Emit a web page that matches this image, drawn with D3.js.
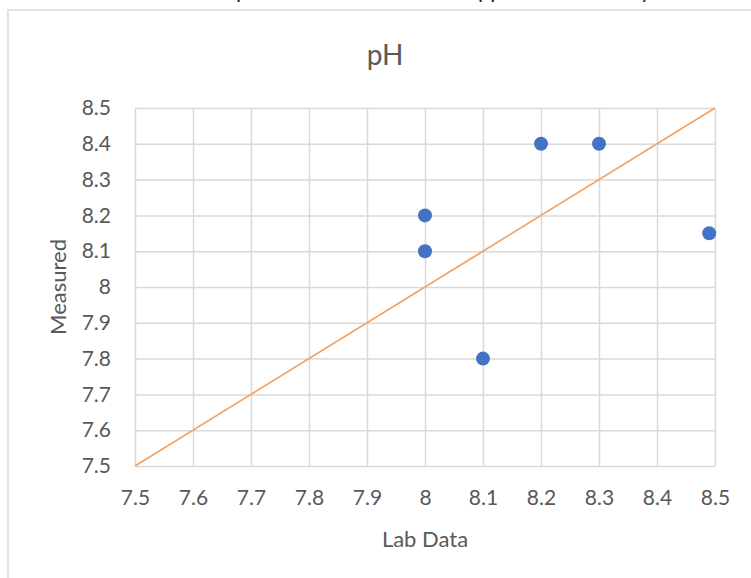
<!DOCTYPE html>
<html>
<head>
<meta charset="utf-8">
<script src="https://cdn.jsdelivr.net/npm/d3@7"></script>
<style>
  body { margin: 0; background: #fff; }
  svg { display: block; font-family: Lato, "Open Sans", sans-serif; }
</style>
</head>
<body>
<svg id="chart" width="751" height="578"></svg>
<script>
// lab value vs field measurement
const labData = [8.0, 8.0, 8.1, 8.2, 8.3, 8.49]
const measured = [8.2, 8.1, 7.8, 8.4, 8.4, 8.15]
// 1:1 reference line
const refLine = [7.5, 8.5]
const ticks = [7.5, 7.6, 7.7, 7.8, 7.9, 8, 8.1, 8.2, 8.3, 8.4, 8.5]

const svg = d3.select('#chart')
const grey = '#595959'

const plot = { left: 135, right: 715, top: 108, bottom: 466 }

const x = d3.scaleLinear().domain([7.5, 8.5]).range([plot.left, plot.right])
const y = d3.scaleLinear().domain([7.5, 8.5]).range([plot.bottom, plot.top])

// chart frame, runs off the right and bottom of the shot
svg.append('rect')
	.attr('x', 8).attr('y', 10)
	.attr('width', 800).attr('height', 600)
	.attr('fill', '#fff')
	.attr('stroke', '#d9d9d9')
	.attr('stroke-width', 1.5)

// tail ends of the document text above the chart (cut off in the shot too)
svg.selectAll('.cut')
	.data([{ t: 'p', x: 236 }, { t: 'pp', x: 478 }, { t: 'y', x: 640 }])
	.join('text')
		.attr('class', 'cut')
		.attr('x', (d) => d.x)
		.attr('y', -2)
		.attr('font-size', 22)
		.attr('fill', '#222')
		.text((d) => d.t)

// gridlines
svg.append('g')
	.attr('transform', `translate(0,${plot.bottom})`)
	.call(d3.axisBottom(x).tickValues(ticks).tickSize(-(plot.bottom - plot.top)).tickFormat(''))
	.call((g) => g.select('.domain').remove())
	.selectAll('line').attr('stroke', '#d9d9d9').attr('stroke-width', 1.5)

svg.append('g')
	.attr('transform', `translate(${plot.left},0)`)
	.call(d3.axisLeft(y).tickValues(ticks).tickSize(-(plot.right - plot.left)).tickFormat(''))
	.call((g) => g.select('.domain').remove())
	.selectAll('line').attr('stroke', '#d9d9d9').attr('stroke-width', 1.5)

// tick labels
const fmt = (d) => d3.format('.1f')(d).replace(/\.0$/, '')

const xAxis = svg.append('g')
	.attr('transform', `translate(0,${plot.bottom})`)
	.call(d3.axisBottom(x).tickValues(ticks).tickSize(0).tickPadding(24).tickFormat(fmt))
xAxis.select('.domain').remove()
xAxis.selectAll('text').attr('font-size', 21).attr('font-family', 'Lato').attr('fill', grey)

const yAxis = svg.append('g')
	.attr('transform', `translate(${plot.left},0)`)
	.call(d3.axisLeft(y).tickValues(ticks).tickSize(0).tickPadding(24).tickFormat(fmt))
yAxis.select('.domain').remove()
yAxis.selectAll('text').attr('font-size', 21).attr('font-family', 'Lato').attr('fill', grey)

// 1:1 line
svg.append('line')
	.attr('x1', x(refLine[0])).attr('y1', y(refLine[0]))
	.attr('x2', x(refLine[1])).attr('y2', y(refLine[1]))
	.attr('stroke', '#f4a465')
	.attr('stroke-width', 1.8)

// points
svg.selectAll('.pt')
	.data(labData.map((v, i) => ({ x: v, y: measured[i] })))
	.join('circle')
		.attr('class', 'pt')
		.attr('cx', (d) => x(d.x))
		.attr('cy', (d) => y(d.y))
		.attr('r', 7)
		.attr('fill', '#4472c4')

// titles
svg.append('text')
	.attr('x', 385).attr('y', 65)
	.attr('text-anchor', 'middle')
	.attr('font-size', 28)
	.attr('fill', grey)
	.text('pH')

svg.append('text')
	.attr('x', (plot.left + plot.right) / 2).attr('y', 547)
	.attr('text-anchor', 'middle')
	.attr('font-size', 22)
	.attr('fill', grey)
	.text('Lab Data')

svg.append('text')
	.attr('transform', `translate(66,${(plot.top + plot.bottom) / 2}) rotate(-90)`)
	.attr('text-anchor', 'middle')
	.attr('font-size', 22)
	.attr('fill', grey)
	.text('Measured')
</script>
</body>
</html>
